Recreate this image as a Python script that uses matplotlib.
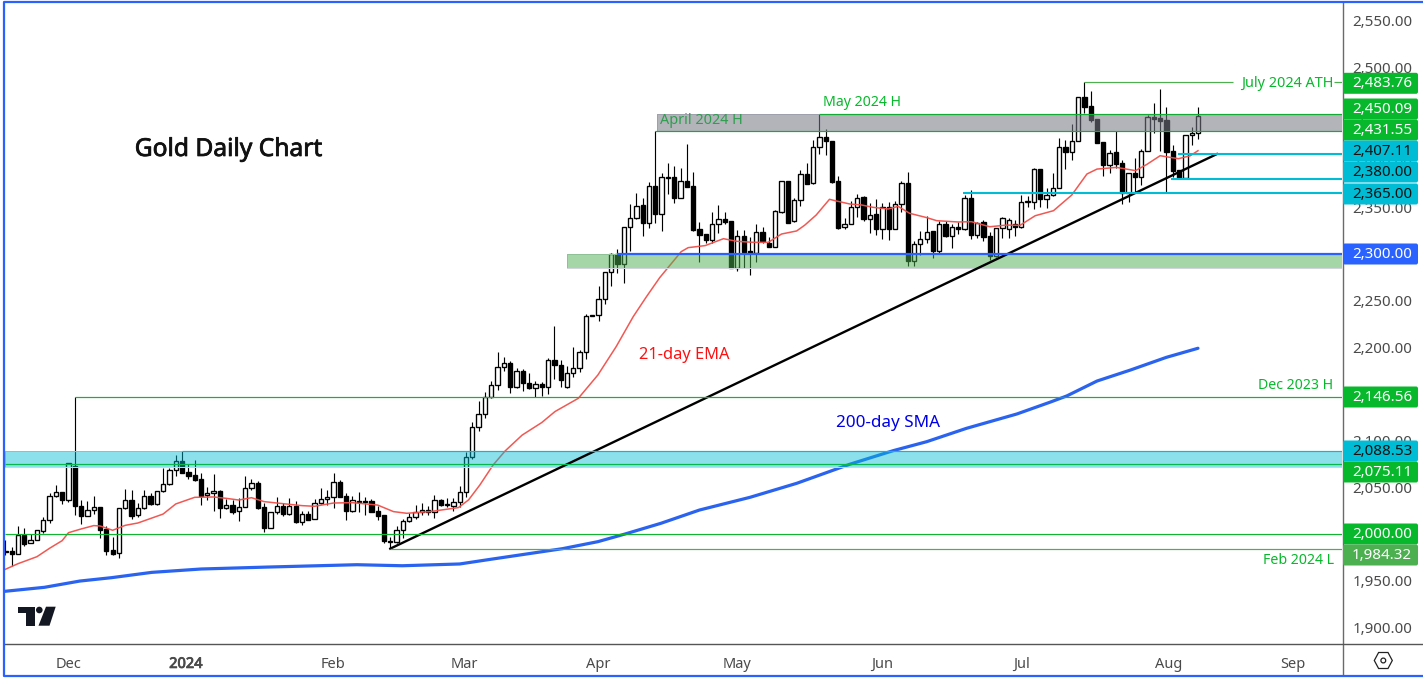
import matplotlib
matplotlib.use("Agg")
import matplotlib.pyplot as plt
import matplotlib.patheffects as pe
import numpy as np
from matplotlib.patches import Rectangle, Polygon, Circle, FancyBboxPatch

plt.rcParams['font.family'] = ['Noto Sans', 'DejaVu Sans']

opens = [1981.7,
1981.8,1978.2,1998.6,1990,1993.2,2002.9,2014.7,2040.4,2044.7,2036.1,
2072.5,2029.7,2018.9,2025.4,2028.6,2005.4,1982.9,1979.3,2027.5,2036.1,
2020,2027.5,2040.4,2031.8,2045.7,2053.2,2068.2,2077.9,2066.1,2062.9,
2058.9,2041.4,2043.6,2045.7,2028.2,2030.7,2024.3,2028.6,2048.9,2054.3,
2028.6,2006.1,2023.2,2029.7,2021.8,2029.7,2013.2,2021.1,2015.7,2032.9,
2037.2,2039.3,2055.4,2040.7,2025,2034.7,2035,2035,2024.7,2020.4,
1991.9,1991.5,2004.7,2013.6,2017.9,2024,2026.1,2024,2036.1,2031.1,
2030.4,2034.7,2044.7,2082.9,2114.4,2128.3,2147.2,2159.3,2178.6,2182.9,
2157.9,2174.3,2161.5,2156.1,2160.4,2157.2,2186.1,2180.8,2157.2,2172.2,
2178.3,2194.7,2234,2234.3,2251.5,2280.4,2299.7,2289.7,2329.3,2339,
2352.2,2333.6,2372.5,2343.3,2381.8,2382.2,2360.4,2378.6,2372.5,2326.4,
2321,2315,2331.8,2337.2,2335.4,2285.4,2319.3,2303.2,2301.4,2323.2,
2312.2,2307.9,2345.4,2378.2,2335,2357.5,2385.4,2375.7,2414.3,2425,
2420.7,2378.2,2328.6,2332.5,2350,2360.7,2337.2,2342.5,2326.4,2350,
2326.4,2353.9,2375.7,2292.9,2310.4,2315.7,2324.3,2303.6,2331.8,2318.9,
2329,2327.1,2359.6,2320.7,2334.6,2319.3,2297.8,2327.5,2326.4,2331.8,
2328.5,2356,2356,2390.7,2358.5,2363.2,2370.3,2414.2,2409.6,2421.4,
2467.8,2458.2,2444.3,2419.6,2395.7,2409.3,2397.1,2365,2386.4,2382.8,
2410,2446.4,2445.3,2443.5,2410,2390,2381.8,2427.1,2429.6]

closes = [1980.8,
1978.2,1998.6,1989.7,1993.2,2004,2014.7,2040.4,2044.7,2036.1,2075.7,
2029.7,2018.9,2025.4,2028.6,2004.7,1982.2,1979,2027.5,2036.1,2019.7,
2027.5,2040.4,2031.8,2045.7,2053.2,2068.2,2077.9,2065.7,2062.5,2058.2,
2041.1,2043.6,2045.7,2028.2,2030.7,2023.2,2028.6,2048.9,2054.3,2028.2,
2006.1,2023.2,2029.7,2021.8,2029.7,2012.9,2021.1,2015.4,2032.9,2037.2,
2039.3,2055.4,2039.7,2025,2036.1,2035.7,2034.3,2024,2019.7,1992.9,
1992.6,2004.7,2013.6,2017.9,2024,2026.1,2024,2036.1,2031.5,2031.8,
2034.7,2044.7,2082.9,2114.4,2128.3,2147.2,2159.3,2178.6,2182.9,2157.9,
2174.3,2161.5,2156.1,2160.4,2157.2,2186.1,2180.8,2165.4,2172.2,2178.3,
2194.7,2233.3,2234.4,2251.5,2280.4,2299.7,2289.7,2329.3,2339,2351.8,
2333.6,2372.5,2343.3,2382.2,2382.2,2360.4,2378.6,2372.2,2326.1,2320.7,
2315,2331.8,2337.2,2334.7,2285.4,2319,2302.2,2300.7,2323.2,2313.6,
2307.9,2345.7,2377.9,2332.9,2357.5,2385.4,2375.4,2414.3,2425,2420.7,
2377.5,2327.9,2332.5,2350,2360.4,2337.2,2342.2,2326.4,2350,2326.4,
2353.9,2375.7,2292.5,2310.4,2315.7,2323.9,2303.6,2331.8,2318.9,2328.6,
2327.2,2359.6,2320.7,2333.5,2318.5,2297.8,2327.5,2338.9,2336,2328.5,
2355.3,2356.8,2390.7,2358.5,2363.2,2370.3,2414.2,2409.6,2421.4,2467.8,
2457.8,2443.5,2419.3,2395.7,2408.5,2396.4,2365,2386.4,2382.8,2410,
2446.4,2445,2442.8,2409.6,2389.3,2381.8,2427.1,2429.6,2447.5]

highs = [1993.6,
1985.7,2008.6,2006.1,1999.7,2004,2018.2,2043.6,2052.2,2044.7,2075.7,
2146.56,2036.4,2035.7,2040.4,2028.6,2008.6,1996.4,2027.5,2048.2,2047.2,
2033.6,2046.8,2043.6,2045.7,2070.4,2070.4,2084.7,2088.53,2075,2079.3,
2065,2050.7,2063.9,2046.8,2037.2,2036.4,2038.2,2061.8,2058.9,2056.8,
2032.9,2023.2,2039.7,2032.9,2038.6,2035.7,2025,2025,2037.2,2049.3,
2046.8,2065.4,2057.9,2043.6,2040.4,2045,2039.3,2037.9,2030,2020.4,
1997.2,2008.6,2016.5,2022.9,2030.8,2032.9,2030,2041.5,2037.2,2039,
2039,2051.5,2087.6,2119.7,2142.6,2152.2,2164.3,2194.7,2189.3,2185.4,
2177.6,2176.8,2172.9,2164,2163.3,2188.3,2222.9,2186.5,2180.4,2200,
2197.2,2235.8,2235,2265.8,2280.4,2301.5,2305,2329.3,2353.3,2365,
2359.7,2377.2,2431.55,2386.5,2397.2,2394.7,2391.8,2417.9,2387.5,2333.9,
2321,2345.4,2352.2,2344.7,2335.4,2325.7,2325.7,2318.6,2332.2,2329.3,
2318.6,2347.2,2378.6,2378.2,2359.7,2390,2397.2,2422.1,2450.09,2433.6,
2420.7,2383.6,2338.2,2356.8,2364,2361.8,2354.3,2358.9,2354.3,2356.1,
2356.8,2378.2,2387.9,2314,2324.7,2341.1,2324.3,2335.7,2335.7,2331.8,
2334.7,2363.2,2368.5,2334.6,2336.4,2323.2,2328.2,2339.6,2338.2,2336.4,
2363.2,2362.1,2391.8,2391,2370.3,2386.4,2423.9,2422.1,2439.3,2468.5,
2483.76,2474.2,2444.3,2419.6,2411.4,2431.7,2400.7,2387.1,2402.5,2412.1,
2448.9,2461.4,2476.4,2457.8,2416.8,2390,2427.1,2435.7,2457.1]

lows = [1977.5,
1965.7,1978.2,1987.5,1990,1993.2,2000.7,2012.2,2040,2032.5,2034.7,
2020.7,2011.1,2018.9,2021.1,1996.1,1977.2,1977.2,1974,2026.4,2016.1,
2018.2,2026.8,2030.7,2031.1,2045,2052.9,2062.2,2065.7,2059.3,2057.2,
2031.1,2036.4,2025,2017.5,2026.8,2021.4,2014.3,2028.6,2047.2,2026.4,
2002.2,2006.1,2021.8,2019.3,2020,2012.2,2010,2015.4,2015.7,2032.2,
2030.7,2027.5,2039.7,2015,2024,2024,2020.7,2023.2,2015,1990,
1984.32,1990,1996.1,2012.6,2015.8,2020.4,2020.4,2016.9,2030,2029.4,
2025.1,2029.4,2040,2080.8,2110.8,2124.7,2145.4,2154.3,2175,2151.5,
2156.1,2153.6,2155.8,2147.2,2148.3,2150.1,2166.1,2157.9,2156.8,2168.6,
2174,2187.6,2233.6,2228.3,2246.8,2266.1,2280,2268.6,2303.3,2337.2,
2319.7,2328.3,2332.9,2325,2364.3,2355,2360.4,2372.2,2325,2291.8,
2311.4,2311.4,2322.2,2331.8,2285.4,2282.2,2285.4,2277.9,2291.8,2311.4,
2307.9,2307.2,2344.3,2332.9,2334.7,2351.4,2374.7,2374.7,2407.1,2406.1,
2376.4,2327.2,2327.2,2332.2,2340,2335.7,2322.9,2320.4,2315.7,2315,
2326.4,2345.4,2287.5,2287.5,2298.6,2311.4,2296.1,2301.4,2318.6,2306.8,
2321.1,2325.7,2316.4,2316.8,2313.9,2293.5,2297.1,2316.8,2316.8,2319.3,
2327.5,2350,2348.2,2350.7,2349.6,2362.1,2370.3,2391,2400.7,2421,
2451.4,2441,2419.3,2383.5,2386.4,2391.8,2353.2,2355.3,2365,2373.9,
2410,2430,2410.3,2365,2382.8,2381,2380.3,2416.8,2423.2]

ema_bar = [-1,1,4,6,8,9,11,13,14,16,18,20,24,26,29,32,34,36,38,40,43,46,48,51,54,58,60.5,62.6,66.3,70.8,72.4,74.2,76.3,78.2,80.9,84,86.1,89.8,92.9,95.8,98.5,100.6,102.7,106.1,107.2,109.9,112.8,114.9,117.5,119.9,122,124.4,125.7,127.5,129.6,130.7,132.8,134.7,136.5,138.9,140.5,142.3,145,146.6,150,152.1,155,157.7,159.8,162.2,165.1,168,170.4,172,175.1,178.1,179.9,182,184.9,186.8,188]
ema_val = [1962.2,1968.2,1975.7,1984.7,1992.9,2001.4,2005.4,2009,2008.6,2004,2009.3,2011.8,2021.4,2032.2,2039.3,2039.7,2038.2,2036.4,2038.9,2034.7,2032.5,2030.4,2029.7,2033.2,2033.6,2031,2024,2022.2,2024,2028.3,2036.5,2052.6,2074,2089,2106,2119.4,2131.2,2145.4,2170.4,2200.8,2232.9,2254.3,2274.7,2302.5,2306.8,2309,2316.4,2313.6,2312.5,2312.5,2321.4,2324.7,2331,2341.8,2358.6,2356.8,2353.6,2352.5,2350,2348.2,2351,2343.6,2339,2335.7,2334.3,2334.6,2329.2,2331,2330.7,2341,2346.4,2363.2,2385.7,2391,2392.8,2389.3,2396,2405.3,2402.1,2405.3,2410.7]

sma_bar = [-1.1,5.2,10.8,15.8,22.2,30,40.6,54.7,61.9,71,75.9,87.3,92.9,97.2,102.9,109,117,124.4,132.8,139.7,145,151.3,159.3,164.5,167.2,172,177.3,183,188]
sma_val = [1938.6,1942.9,1949.6,1953.2,1958.9,1962.5,1964.6,1967.1,1966,1967.9,1972.9,1984.3,1991.8,2000,2011.5,2025.7,2039.3,2054.3,2074.7,2089.3,2098.9,2113.2,2128.6,2141.1,2147.9,2163.9,2175.7,2189.3,2199]

trend_bar = [60, 191]
trend_val = [1984.32, 2407.11]

yticks = list(range(1900, 2551, 50))
month_pos = [9, 27.6, 50.9, 71.8, 92.9, 114.9, 138, 160, 183.4, 203]
month_lab = ['Dec', '2024', 'Feb', 'Mar', 'Apr', 'May', 'Jun', 'Jul', 'Aug', 'Sep']

badge_vals = ['2,483.76', '2,450.09', '2,431.55', '2,407.11', '2,380.00', '2,365.00', '2,300.00', '2,146.56', '2,088.53', '2,075.11', '2,000.00', '1,984.32']

W, H = 1423, 680
GREEN = '#08b82c'
CYAN = '#00bcd4'
BLUE = '#2962ff'
LG = '#4caf50'

fig = plt.figure(figsize=(W/100, H/100), dpi=100, facecolor='white')
ax = fig.add_axes([5/W, (H-643)/H, (1342-5)/W, 640/H])
x0, x1 = (5-11.7)/6.31, (1342-11.7)/6.31
ax.set_xlim(x0, x1)
ax.set_ylim(2300-389*1.0714, 2300+251*1.0714)

bars = np.arange(-1, len(opens)-1)
op, cl, hi, lo = map(np.array, (opens, closes, highs, lows))
px = 0.72
ax.vlines(bars, lo, hi, color='black', lw=px*1.15, zorder=2)
up = cl >= op
ax.bar(bars[up], np.maximum(cl-op, .3)[up], bottom=op[up], width=0.68, facecolor='white', edgecolor='black', lw=px*1.35, zorder=3)
ax.bar(bars[~up], np.maximum(op-cl, .3)[~up], bottom=cl[~up], width=0.68, facecolor='black', edgecolor='black', lw=px*1.35, zorder=3)

ax.plot(ema_bar, ema_val, color='#f0504a', lw=1.1, alpha=.95, zorder=4)
ax.plot(sma_bar, sma_val, color='#2a63f0', lw=2.3, zorder=4, solid_capstyle='round')
ax.plot(trend_bar, trend_val, color='black', lw=1.7, zorder=6)

# zones
def zone(xs, lo_, hi_, col, a):
    ax.add_patch(Rectangle((xs, lo_), x1-xs, hi_-lo_, facecolor=col, alpha=a, edgecolor='none', zorder=5))
    ax.plot([xs, x1, x1, xs, xs], [lo_, lo_, hi_, hi_, lo_], color='#d1d4dc', lw=px, zorder=4.9)
zone(102.2, 2431.55, 2450.09, '#787b86', .57)
zone(88, 2285, 2300, LG, .5)
zone(x0, 2071.5, 2088.53, CYAN, .45)

def hl(xs, v, col, lw=px*1.2, xe=None):
    ax.plot([xs, x1 if xe is None else xe], [v, v], color=col, lw=lw, zorder=6, solid_capstyle='butt')
hl(128, 2450.09, '#12ab33')
hl(102, 2431.55, '#12ab33')
hl(170, 2483.76, '#4caf50', xe=193.5)
hl(209.5, 2483.76, '#4caf50')
hl(10, 2146.56, '#12b532')
hl(x0, 2000, '#12b532')
hl(60, 1984.32, LG)
hl(x0, 2075.11, '#08b84c')
hl(27, 2088.53, '#12b5cf')
hl(96, 2300, BLUE, lw=1.6)
hl(184.8, 2407.11, CYAN, lw=1.5)
hl(183.8, 2380, CYAN, lw=1.5)
hl(150.8, 2365, CYAN, lw=1.5)

# annotations
def lab(bar, val, s, col, size, ha='left', **k):
    return ax.text(bar, val, s, color=col, fontsize=size, ha=ha, va='center', zorder=8, **k)
title = lab(19.5, 2412, 'Gold Daily Chart', '#111111', 17.7)
title.set_path_effects([pe.withStroke(linewidth=0.55, foreground='#111111')])
lab(102.8, 2442.5, 'April 2024 H', '#2f9e4f', 10.4)
lab(128.6, 2462.5, 'May 2024 H', GREEN, 10.2)
lab(209.4, 2482.5, 'July 2024 ATH', GREEN, 10.4, ha='right')
lab(99.4, 2192, '21-day EMA', '#ff1010', 11.8)
lab(130.6, 2119, '200-day SMA', '#0000e6', 12.3)
lab(209.4, 2159.5, 'Dec 2023 H', GREEN, 10.2, ha='right')
lab(209.5, 1971.5, 'Feb 2024 L', GREEN, 10.2, ha='right')

# axes cosmetics
for s in ax.spines.values():
    s.set_visible(False)
ax.yaxis.tick_right()
ax.set_yticks(yticks)
ax.set_yticklabels([f'{v:,.2f}' for v in yticks], fontsize=10.9, color='#4a4a4a')
ax.tick_params(axis='y', length=0, pad=7.5)
ax.set_xticks(month_pos)
ax.set_xticklabels(month_lab, fontsize=10.5, color='#4a4a4a')
ax.tick_params(axis='x', length=0, pad=10)
ax.get_xticklabels()[1].set_path_effects([pe.withStroke(linewidth=0.6, foreground='#4a4a4a')])

# overlay in pixels
ov = fig.add_axes([0, 0, 1, 1], zorder=10)
ov.set_xlim(0, W); ov.set_ylim(H, 0); ov.axis('off'); ov.patch.set_alpha(0)

ov.plot([1342.5, 1342.5], [3, 675], color='#6a6a6a', lw=1.0)
ov.plot([4, 1423], [643.5, 643.5], color='#555555', lw=1.0)

badge_y = [83.3, 109, 130, 151, 172, 194, 254, 397, 451, 472, 534, 555]
badge_bg = [GREEN, GREEN, GREEN, CYAN, CYAN, CYAN, BLUE, GREEN, CYAN, GREEN, GREEN, LG]
badge_fg = ['white', 'white', 'white', '#111', '#111', '#111', 'white', 'white', '#111', 'white', 'white', 'white']
for s, y, bg, fg in zip(badge_vals, badge_y, badge_bg, badge_fg):
    ov.add_patch(FancyBboxPatch((1343, y-10.5), 75, 21, boxstyle='round,pad=0,rounding_size=2', facecolor=bg, edgecolor='none', zorder=3))
    ov.text(1382, y+0.3, s, color=fg, fontsize=10.9, ha='center', va='center', zorder=4)

# logo
ink = '#131722'
ov.add_patch(Polygon([(18, 606.7), (34.5, 606.7), (34.5, 625.7), (26, 625.7), (26, 613.3), (18, 613.3)], facecolor=ink, edgecolor='none'))
ov.add_patch(Circle((39.3, 610), 3.3, facecolor=ink, edgecolor='none'))
ov.add_patch(Polygon([(46, 606.7), (55.7, 606.7), (49.5, 625.7), (38.5, 625.7)], facecolor=ink, edgecolor='none'))

# settings icon
cx, cy = 1383.3, 660.5
ov.add_patch(Polygon([(cx-9, cy), (cx-4.7, cy-8), (cx+4.7, cy-8), (cx+9, cy), (cx+4.7, cy+8), (cx-4.7, cy+8)], closed=True, fill=False, edgecolor='#222', lw=.9))
ov.add_patch(Circle((cx, cy), 2.4, fill=False, edgecolor='#222', lw=.9))

# outer frame (left, top, bottom)
ov.plot([1423, 3.5, 3.5, 1423], [1.5, 1.5, 676, 676], color=BLUE, lw=1.6)

fig.savefig('out.png', dpi=100)
